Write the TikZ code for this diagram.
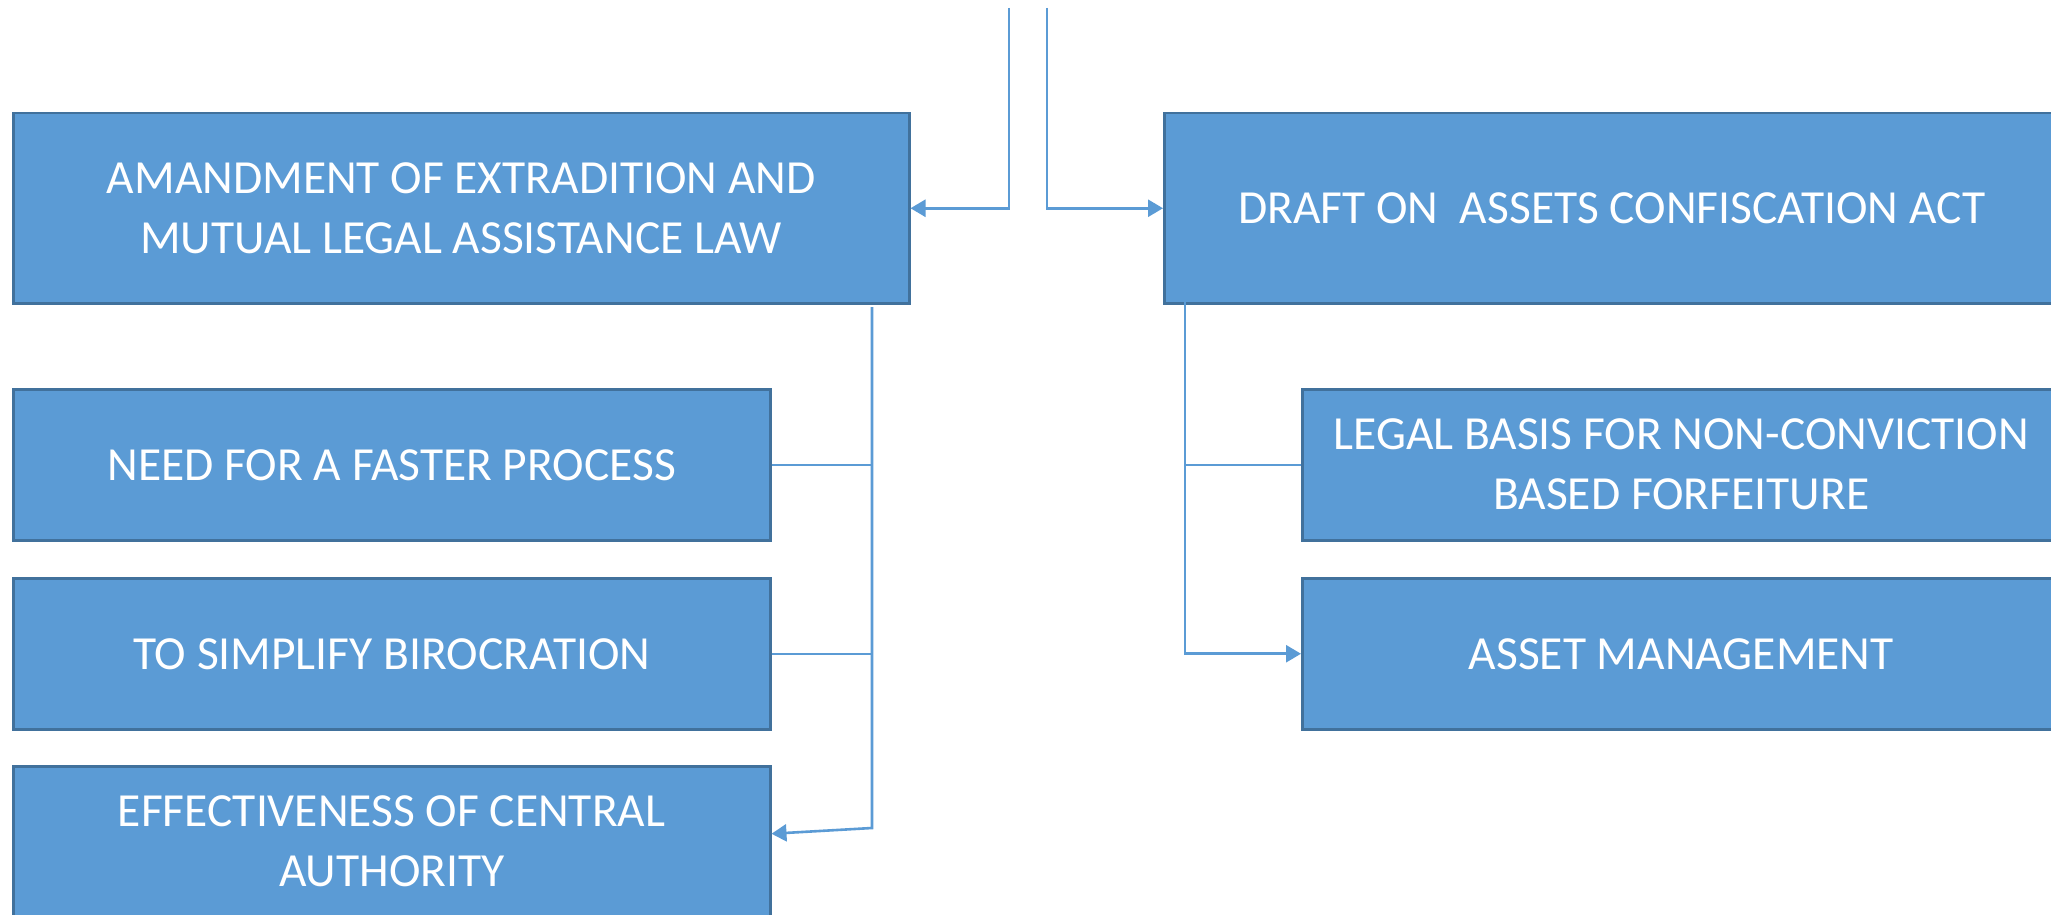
\documentclass[tikz,border=0pt]{standalone}
\usepackage{fontspec}
\setmainfont{Carlito}
\usetikzlibrary{arrows.meta,calc}
\definecolor{boxfill}{HTML}{5B9BD5}
\definecolor{boxedge}{HTML}{41719C}
\definecolor{linkc}{HTML}{5B9BD5}
\tikzset{
  box/.style={draw=boxedge, fill=boxfill, line width=2.5pt, anchor=north west,
    text=white, align=center, inner sep=0pt,
    font=\fontsize{47.5}{60}\selectfont},
  link/.style={draw=linkc, line width=2.6pt},
  tick/.style={draw=linkc, line width=1.5pt},
  arr/.style={-{Triangle[length=15pt,width=17pt]}}
}
\begin{document}
\begin{tikzpicture}[x=1pt,y=-1pt]
\useasboundingbox (0,0) rectangle (2051,915);
\clip (0,0) rectangle (2051,915);
\fill[white] (0,0) rectangle (2051,915);
% boxes
\node[box, minimum width=896pt, minimum height=190pt] (amd) at (12,112)
  {AMANDMENT OF EXTRADITION AND\\MUTUAL LEGAL ASSISTANCE LAW};
\node[box, minimum width=757pt, minimum height=151pt] (need) at (12,388)
  {NEED FOR A FASTER PROCESS};
\node[box, minimum width=757pt, minimum height=151pt] (simp) at (12,577)
  {TO SIMPLIFY BIROCRATION};
\node[box, minimum width=757pt, minimum height=151pt] (eff) at (12,765)
  {EFFECTIVENESS OF CENTRAL\\AUTHORITY};
\node[box, minimum width=895pt, minimum height=190pt] (draft) at (1163,112)
  {DRAFT ON \ ASSETS CONFISCATION ACT};
\node[box, minimum width=758pt, minimum height=151pt] (legal) at (1301,388)
  {LEGAL BASIS FOR NON-CONVICTION\\BASED FORFEITURE};
\node[box, minimum width=758pt, minimum height=151pt] (asset) at (1301,577)
  {ASSET MANAGEMENT};
% free ends
\coordinate (inL) at (1009,8);
\coordinate (inR) at (1047,8);
\coordinate (bl) at (872,307);
\coordinate (blb) at (872,828);
\coordinate (br) at (1185,302);
% top connectors
\draw[link,arr] (inL) |- (amd.east);
\draw[link,arr] (inR) |- (draft.west);
% left bracket
\draw[link,arr] (bl) -- (blb) -- ([yshift=8pt]eff.east);
\draw[tick] (need.east) -- (need.east -| bl);
\draw[tick] (simp.east) -- (simp.east -| bl);
% right bracket
\draw[link,arr] (br) |- (asset.west);
\draw[tick] (legal.west -| br) -- (legal.west);
\end{tikzpicture}
\end{document}
